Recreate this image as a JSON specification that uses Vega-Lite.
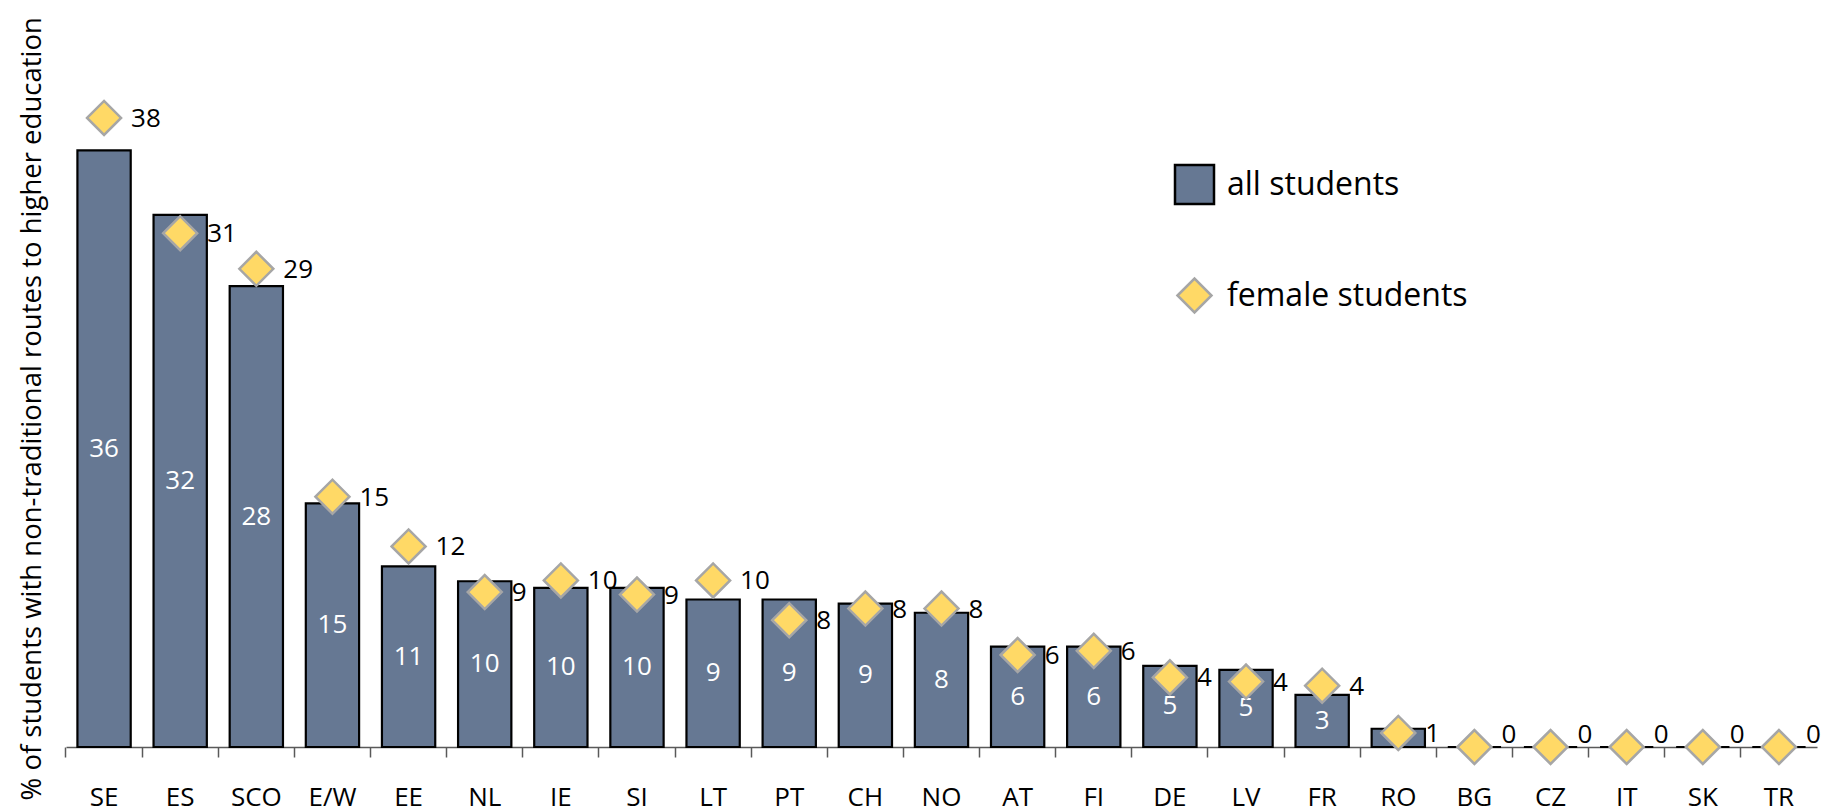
{
  "$schema": "https://vega.github.io/schema/vega-lite/v6.json",
  "width": 1751,
  "height": 663,
  "autosize": {"type": "none"},
  "padding": {"left": 66, "top": 84, "right": 14, "bottom": 65},
  "background": "white",
  "config": {
    "view": {"stroke": null},
    "font": "Open Sans",
    "axis": {"labelFont": "Open Sans", "titleFont": "Open Sans"},
    "legend": {"labelFont": "Open Sans"}
  },
  "data": {
    "values": [
      {"country": "SE", "all": 36.0, "female": 37.95},
      {"country": "ES", "all": 32.1, "female": 31.0},
      {"country": "SCO", "all": 27.8, "female": 28.85},
      {"country": "E/W", "all": 14.7, "female": 15.1},
      {"country": "EE", "all": 10.9, "female": 12.1},
      {"country": "NL", "all": 10.0, "female": 9.35},
      {"country": "IE", "all": 9.6, "female": 10.05},
      {"country": "SI", "all": 9.6, "female": 9.2},
      {"country": "LT", "all": 8.9, "female": 10.05},
      {"country": "PT", "all": 8.9, "female": 7.65},
      {"country": "CH", "all": 8.65, "female": 8.35},
      {"country": "NO", "all": 8.1, "female": 8.35},
      {"country": "AT", "all": 6.05, "female": 5.55},
      {"country": "FI", "all": 6.05, "female": 5.8},
      {"country": "DE", "all": 4.9, "female": 4.2},
      {"country": "LV", "all": 4.65, "female": 3.95},
      {"country": "FR", "all": 3.15, "female": 3.7},
      {"country": "RO", "all": 1.1, "female": 0.85},
      {"country": "BG", "all": 0, "female": 0},
      {"country": "CZ", "all": 0, "female": 0},
      {"country": "IT", "all": 0, "female": 0},
      {"country": "SK", "all": 0, "female": 0},
      {"country": "TR", "all": 0, "female": 0}
    ]
  },
  "encoding": {
    "x": {
      "field": "country",
      "type": "nominal",
      "sort": null,
      "scale": {"paddingInner": 0, "paddingOuter": 0},
      "axis": {
        "title": null,
        "labelAngle": 0,
        "labelFontSize": 26,
        "labelColor": "#000000",
        "labelPadding": 27,
        "bandPosition": 0,
        "tickSize": 10,
        "tickColor": "#595959",
        "tickWidth": 1.5,
        "domainColor": "#595959",
        "domainWidth": 1.5,
        "grid": false
      }
    }
  },
  "resolve": {"scale": {"y": "independent"}},
  "layer": [
    {
      "mark": {"type": "bar", "width": {"band": 0.7}, "stroke": "#000000", "strokeWidth": 2.2},
      "encoding": {
        "y": {
          "field": "all",
          "type": "quantitative",
          "scale": {"domain": [0, 40], "nice": false},
          "axis": {
            "title": "% of students with non-traditional routes to higher education",
            "titleFontSize": 27.5,
            "titleFontWeight": "normal",
            "titleColor": "#000000",
            "titleAnchor": "start",
            "titleAlign": "left",
            "titleY": 716,
            "titlePadding": 20,
            "domain": false,
            "ticks": false,
            "labels": false,
            "grid": false
          }
        },
        "fill": {
          "datum": "all students",
          "scale": {"domain": ["all students", "female students"], "range": ["#667893", "#FFD966"]},
          "legend": {
            "title": null,
            "orient": "none",
            "legendX": 1110,
            "legendY": 82,
            "labelFontSize": 32,
            "labelColor": "#000000",
            "labelLimit": 0,
            "labelOffset": 14,
            "symbolSize": {"expr": "datum.value === 'all students' ? 1521 : 1156"},
            "symbolOpacity": 1,
            "symbolStrokeWidth": 2.5,
            "symbolType": {"expr": "datum.value === 'all students' ? 'square' : 'diamond'"},
            "symbolStrokeColor": {"expr": "datum.value === 'all students' ? '#000000' : '#A6A6A6'"},
            "rowPadding": 64
          }
        }
      }
    },
    {
      "mark": {"type": "text", "color": "#ffffff", "fontSize": 26, "baseline": "middle", "align": "center"},
      "transform": [{"filter": "datum.all > 2"}],
      "encoding": {
        "y": {"field": "all", "type": "quantitative", "scale": {"domain": [0, 80], "nice": false}, "axis": null},
        "text": {"field": "all", "type": "quantitative", "format": ".0f"}
      }
    },
    {
      "mark": {"type": "point", "shape": "diamond", "filled": true, "size": 1156, "opacity": 1, "stroke": "#A6A6A6", "strokeWidth": 2.5},
      "encoding": {
        "y": {"field": "female", "type": "quantitative", "scale": {"domain": [0, 40], "nice": false}, "axis": null},
        "fill": {
          "datum": "female students",
          "legend": {
            "title": null,
            "orient": "none",
            "legendX": 1110,
            "legendY": 82,
            "labelFontSize": 32,
            "labelColor": "#000000",
            "labelLimit": 0,
            "labelOffset": 14,
            "symbolSize": {"expr": "datum.value === 'all students' ? 1521 : 1156"},
            "symbolOpacity": 1,
            "symbolStrokeWidth": 2.5,
            "symbolType": {"expr": "datum.value === 'all students' ? 'square' : 'diamond'"},
            "symbolStrokeColor": {"expr": "datum.value === 'all students' ? '#000000' : '#A6A6A6'"},
            "rowPadding": 64
          }
        }
      }
    },
    {
      "mark": {"type": "text", "color": "#000000", "fontSize": 26, "baseline": "middle", "align": "left", "dx": 27, "dy": 1},
      "transform": [{"filter": "datum.female > 0"}],
      "encoding": {
        "y": {"field": "female", "type": "quantitative", "scale": {"domain": [0, 40], "nice": false}, "axis": null},
        "text": {"field": "female", "type": "quantitative", "format": ".0f"}
      }
    },
    {
      "mark": {"type": "text", "color": "#000000", "fontSize": 26, "baseline": "middle", "align": "left", "dx": 27, "dy": -12},
      "transform": [{"filter": "datum.female <= 0"}],
      "encoding": {
        "y": {"field": "female", "type": "quantitative", "scale": {"domain": [0, 40], "nice": false}, "axis": null},
        "text": {"field": "female", "type": "quantitative", "format": ".0f"}
      }
    }
  ]
}
